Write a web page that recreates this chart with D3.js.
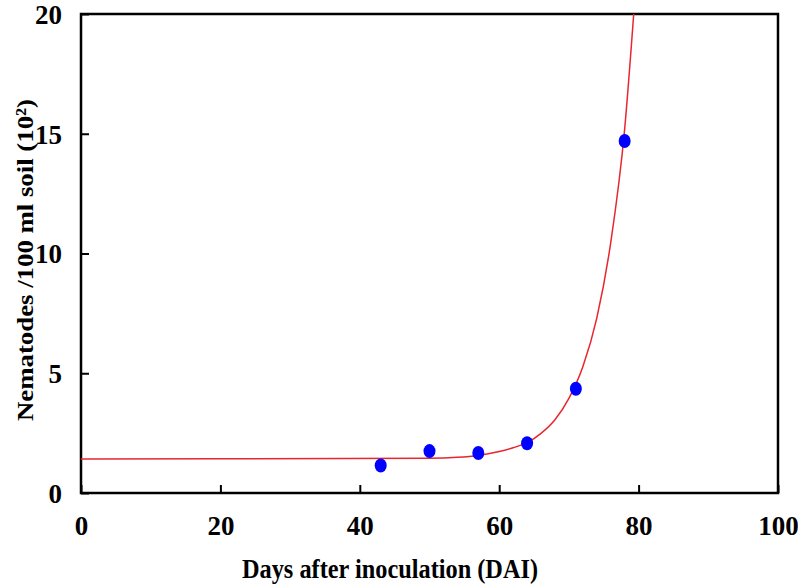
<!DOCTYPE html>
<html>
<head>
<meta charset="utf-8">
<script src="https://cdn.jsdelivr.net/npm/d3@7"></script>
<style>
  body { margin: 0; background: #fff; }
  text { font-family: "Liberation Serif", "Times New Roman", serif; font-weight: bold; fill: #000; }
</style>
</head>
<body>
<div id="chart"></div>
<script>
var width = 798;
var height = 586;

// observed counts
var days = [43, 50, 57, 64, 71, 78];
var counts = [1.15, 1.75, 1.67, 2.08, 4.35, 14.7];

// fitted curve
var curveDays = [0, 50, 54, 57, 60, 62, 64, 66, 68, 70, 72, 74, 76, 78, 79.3];
var curveVals = [1.42, 1.45, 1.49, 1.57, 1.73, 1.89, 2.1, 2.49, 3.06, 3.95, 5.27, 7.3, 10.45, 15.2, 20];

var xTicks = [0, 20, 40, 60, 80, 100];
var yTicks = [0, 5, 10, 15, 20];

var margin = {top: 14, right: 20, bottom: 93, left: 81};
var chart_width = width - margin.left - margin.right;
var chart_height = height - margin.top - margin.bottom;

var svg = d3.select("#chart")
            .append("svg")
            .attr("width", width)
            .attr("height", height);

var g = svg.append("g")
           .attr("transform", "translate(" + margin.left + "," + margin.top + ")");

var x_scale = d3.scaleLinear().domain([0, 100]).range([0, chart_width]);
var y_scale = d3.scaleLinear().domain([0, 20]).range([chart_height, 0]);

g.append("clipPath").attr("id", "clip")
  .append("rect")
  .attr("width", chart_width)
  .attr("height", chart_height);

//Axes with inward ticks
var xAxis = d3.axisBottom(x_scale).tickValues(xTicks).tickSize(-8).tickPadding(22).tickSizeOuter(0);
var yAxis = d3.axisLeft(y_scale).tickValues(yTicks).tickSize(-8).tickPadding(19).tickSizeOuter(0);

var ax = g.append("g")
  .attr("transform", "translate(0," + chart_height + ")")
  .call(xAxis);
ax.selectAll("text").style("font-size", "27px").attr("dy", "0.75em");

var ay = g.append("g").call(yAxis);
ay.selectAll("text").style("font-size", "27px").attr("dy", "0.35em");

svg.selectAll(".domain").remove();
svg.selectAll(".tick line").style("stroke", "#000").style("stroke-width", 2);

//Frame
g.append("rect")
  .attr("x", 0)
  .attr("y", 0)
  .attr("width", chart_width)
  .attr("height", chart_height)
  .style("fill", "none")
  .style("stroke", "#000")
  .style("stroke-width", 2.5);

//Fitted curve
var curveData = curveDays.map(function(d, i) { return {x: d, y: curveVals[i]}; });
var line = d3.line()
  .x(function(d) { return x_scale(d.x); })
  .y(function(d) { return y_scale(d.y); })
  .curve(d3.curveMonotoneX);

g.append("path")
  .datum(curveData)
  .attr("clip-path", "url(#clip)")
  .attr("d", line)
  .style("fill", "none")
  .style("stroke", "#e8262d")
  .style("stroke-width", 1.5);

//Points
g.selectAll(".pt")
  .data(days)
  .enter()
  .append("ellipse")
  .attr("class", "pt")
  .attr("cx", function(d) { return x_scale(d); })
  .attr("cy", function(d, i) { return y_scale(counts[i]); })
  .attr("rx", 6)
  .attr("ry", 7)
  .style("fill", "#0000ff");

//Axis titles
svg.append("text")
  .attr("x", 390)
  .attr("y", 578)
  .attr("text-anchor", "middle")
  .attr("textLength", 296)
  .attr("lengthAdjust", "spacingAndGlyphs")
  .style("font-size", "27px")
  .text("Days after inoculation (DAI)");

svg.append("text")
  .attr("transform", "translate(33,260) rotate(-90)")
  .attr("text-anchor", "middle")
  .attr("textLength", 322)
  .attr("lengthAdjust", "spacingAndGlyphs")
  .style("font-size", "24px")
  .text("Nematodes /100 ml soil (10²)");
</script>
</body>
</html>
